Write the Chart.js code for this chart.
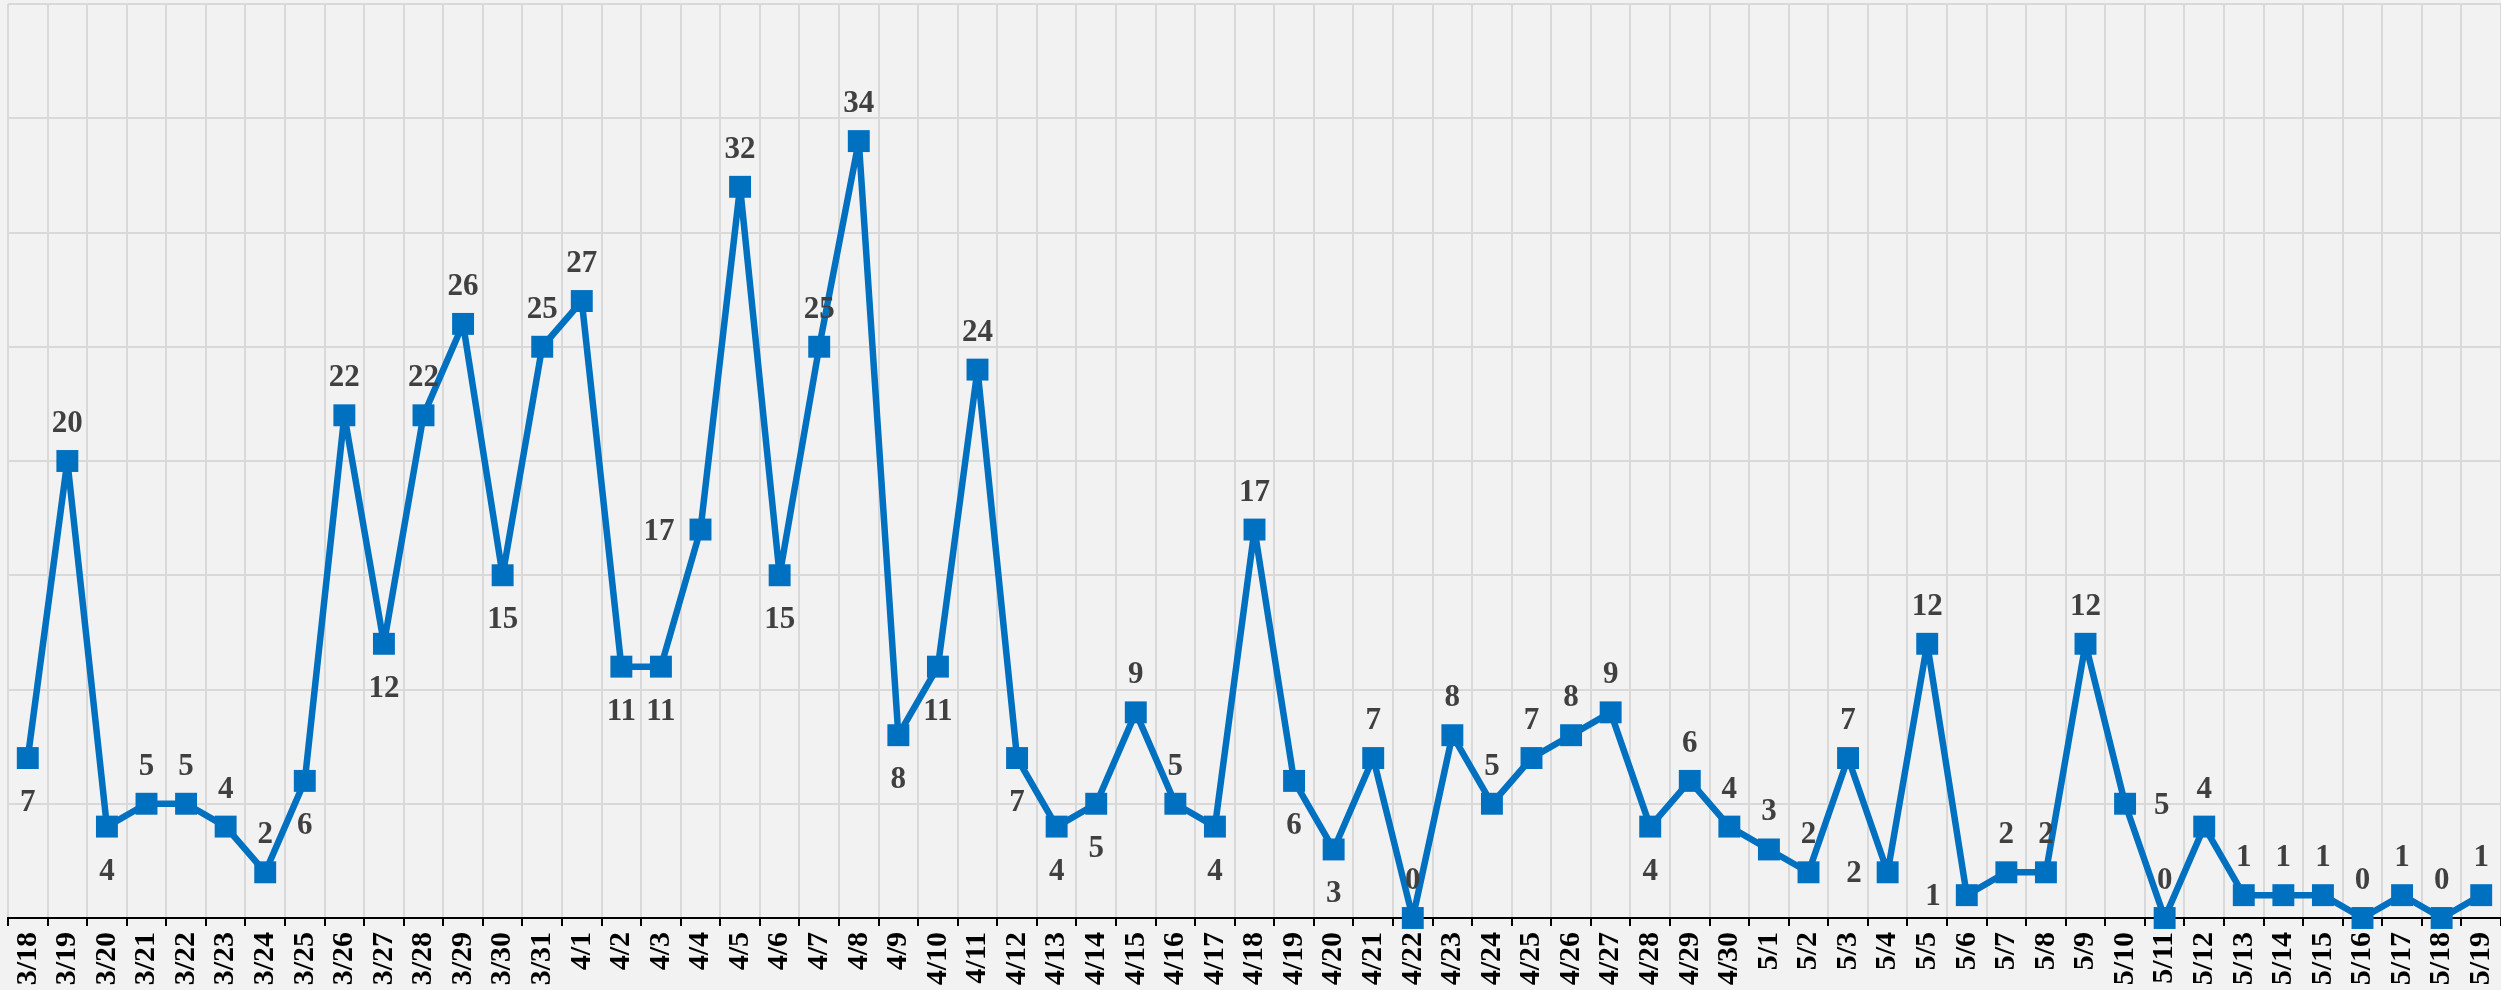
<!DOCTYPE html>
<html>
<head>
<meta charset="utf-8">
<script src="https://cdn.jsdelivr.net/npm/chart.js@4/dist/chart.umd.min.js"></script>
<style>
  html, body { margin: 0; padding: 0; background: #f2f2f2; }
  #wrap { width: 2501px; height: 990px; position: relative; }
  canvas { display: block; }
</style>
</head>
<body>
<div id="wrap"><canvas id="c" width="2501" height="990"></canvas></div>
<script>
const categories = [
  '3/18','3/19','3/20','3/21','3/22','3/23','3/24','3/25','3/26','3/27','3/28','3/29','3/30','3/31',
  '4/1','4/2','4/3','4/4','4/5','4/6','4/7','4/8','4/9','4/10','4/11','4/12','4/13','4/14','4/15',
  '4/16','4/17','4/18','4/19','4/20','4/21','4/22','4/23','4/24','4/25','4/26','4/27','4/28','4/29','4/30',
  '5/1','5/2','5/3','5/4','5/5','5/6','5/7','5/8','5/9','5/10','5/11','5/12','5/13','5/14','5/15',
  '5/16','5/17','5/18','5/19'
];
const values = [
  7,20,4,5,5,4,2,6,22,12,22,26,15,25,
  27,11,11,17,32,15,25,34,8,11,24,7,4,5,9,
  5,4,17,6,3,7,0,8,5,7,8,9,4,6,4,
  3,2,7,2,12,1,2,2,12,5,0,4,1,1,1,
  0,1,0,1
];
// label placement per point: a = above, b = below, l = left, r = right
const labelPlacement = [
  'b','a','b','a','a','a','a','b','a','b','a','a','b','a',
  'a','b','b','l','a','b','a','a','b','b','a','b','b','b','a',
  'a','b','a','b','b','a','a','a','a','a','a','a','b','a','a',
  'a','a','a','l','a','l','a','a','a','r','a','a','a','a','a',
  'a','a','a','a'
];
const yTicks = { min: 0, max: 40, step: 5 };

const labelPlugin = {
  id: 'pointLabels',
  afterDatasetsDraw(chart) {
    const ctx = chart.ctx;
    const meta = chart.getDatasetMeta(0);
    ctx.save();
    ctx.font = 'bold 31px "Liberation Serif", serif';
    ctx.fillStyle = '#404040';
    ctx.textBaseline = 'middle';
    meta.data.forEach((pt, i) => {
      const txt = String(values[i]);
      const p = labelPlacement[i];
      let x = pt.x, y = pt.y;
      if (p === 'a') { ctx.textAlign = 'center'; y -= 37; }
      else if (p === 'b') { ctx.textAlign = 'center'; y += 45; }
      else if (p === 'l') { ctx.textAlign = 'right'; x -= 26; y += 2; }
      else { ctx.textAlign = 'left'; x += 29; y += 2; }
      ctx.fillText(txt, x, y);
    });
    ctx.restore();
  }
};

new Chart(document.getElementById('c'), {
  type: 'line',
  data: {
    labels: categories,
    datasets: [{
      data: values,
      borderColor: '#0070c0',
      backgroundColor: '#0070c0',
      borderWidth: 6.5,
      borderJoinStyle: 'round',
      borderCapStyle: 'round',
      pointStyle: 'rect',
      pointRadius: 15.5,
      pointHoverRadius: 15.5,
      pointBorderWidth: 0,
      pointBackgroundColor: '#0070c0',
      tension: 0,
      clip: false
    }]
  },
  options: {
    responsive: false,
    animation: false,
    events: [],
    layout: { autoPadding: false, padding: { left: 8, top: 4, right: 0, bottom: 0 } },
    plugins: { legend: { display: false }, tooltip: { enabled: false } },
    scales: {
      x: {
        offset: true,
        grid: {
          offset: true,
          color: '#d9d9d9',
          lineWidth: 2,
          drawTicks: true,
          tickLength: 8,
          tickColor: '#000000',
          tickWidth: 2
        },
        border: { display: true, color: '#000000', width: 2 },
        ticks: {
          autoSkip: false,
          maxRotation: 90,
          minRotation: 90,
          padding: 6,
          color: '#000000',
          font: { family: '"Liberation Serif", serif', size: 30, weight: 'bold' }
        },
        afterFit(scale) {
          scale.height = 72;
          scale.paddingLeft = 0;
          scale.paddingRight = 0;
        }
      },
      y: {
        min: yTicks.min,
        max: yTicks.max,
        ticks: { display: false, stepSize: yTicks.step },
        grid: { color: '#d9d9d9', lineWidth: 2, drawTicks: false },
        border: { display: false },
        afterFit(scale) { scale.width = 0; scale.paddingTop = 0; scale.paddingBottom = 0; }
      }
    }
  },
  plugins: [labelPlugin]
});
</script>
</body>
</html>
